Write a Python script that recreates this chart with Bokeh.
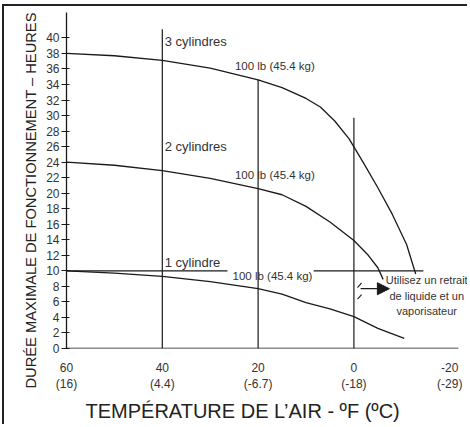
from bokeh.plotting import figure
from bokeh.models import Range1d, FixedTicker, Arrow, NormalHead, Title
from bokeh.core.properties import value
from bokeh.embed import file_html
from bokeh.resources import INLINE

# ---- data (temperature °F, hours) ----
cyl3_temp = [60, 50, 40, 30, 20, 15, 10, 7, 4, 1, -2, -5, -8, -11, -12.9]
cyl3_hours = [38.0, 37.7, 37.1, 36.1, 34.6, 33.6, 32.2, 31.1, 29.3, 27.0, 23.9, 20.7, 17.3, 13.4, 9.6]
cyl2_temp = [60, 50, 40, 30, 20, 15, 10, 5, 0, -3, -5, -6.1]
cyl2_hours = [24.0, 23.6, 22.9, 21.9, 20.6, 19.8, 18.3, 16.3, 13.9, 12.0, 10.4, 8.9]
cyl1_temp = [60, 50, 40, 30, 20, 15, 10, 5, 0, -5, -10.5]
cyl1_hours = [10.0, 9.7, 9.3, 8.6, 7.7, 7.0, 5.9, 5.1, 4.1, 2.6, 1.3]

vline_temp = [40, 20, 0]
vline_top = [41.1, 34.6, 29.7]

hline_level = 10
hline_x0 = [60, 8.4]
hline_x1 = [26.4, -14.5]

x_ticks = [60, 40, 20, 0, -20]
x_tick_labels = ["60\n(16)", "40\n(4.4)", "20\n(-6.7)", "0\n(-18)", "-20\n(-29)"]
y_ticks = list(range(0, 41, 2))

cyl_names = ["3 cylindres", "2 cylindres", "1 cylindre"]
cyl_name_x = [39.5, 39.5, 39.5]
cyl_name_y = [39.5, 26.0, 11.1]

weight_text = ["100 lb (45.4 kg)"] * 3
weight_x = [16.5, 16.5, 17.0]
weight_y = [36.4, 22.4, 9.4]

note_lines = ["Utilisez un retrait", "de liquide et un", "vaporisateur"]
note_x = [-15.2, -15.2, -15.2]
note_y = [8.8, 6.8, 4.8]

arrow_x = [-1.4, -7.4]
arrow_y = 7.7

marks_x0 = [-0.75, -0.75]
marks_y0 = [7.85, 6.35]
marks_x1 = [-1.6, -1.6]
marks_y1 = [8.45, 6.95]

x_title = "TEMPÉRATURE DE L’AIR - ºF (ºC)"
y_title = "DURÉE MAXIMALE DE FONCTIONNEMENT – HEURES"

FONT = "Liberation Sans"
INK = "#1a1a1a"
TXT = "#333333"

p = figure(width=465, height=420, output_backend="svg", toolbar_location=None,
           x_range=Range1d(60, -24.13), y_range=Range1d(0, 43.27),
           min_border_left=62, min_border_right=0, min_border_top=6, min_border_bottom=70)
p.styles = {"margin-left": "2px", "margin-top": "4px",
            "border-top": "2px solid #222", "border-left": "2px solid #222"}
p.outline_line_color = None
p.xgrid.visible = False
p.ygrid.visible = False
p.background_fill_color = "white"
p.border_fill_color = "white"

# axes
xa = p.xaxis[0]
xa.ticker = FixedTicker(ticks=x_ticks)
xa.major_label_overrides = {t: s for t, s in zip(x_ticks, x_tick_labels)}
xa.axis_line_color = None
xa.major_tick_line_color = None
xa.minor_tick_line_color = None
xa.major_label_standoff = 6
xa.major_label_text_font = FONT
xa.major_label_text_font_size = "12px"
xa.major_label_text_color = TXT

ya = p.yaxis[0]
ya.ticker = FixedTicker(ticks=y_ticks)
ya.axis_line_color = INK
ya.axis_line_width = 1.3
ya.major_tick_line_color = INK
ya.major_tick_out = 5
ya.major_tick_in = 3
ya.minor_tick_line_color = None
ya.major_label_standoff = 2
ya.major_label_text_font = FONT
ya.major_label_text_font_size = "12px"
ya.major_label_text_color = TXT

# axis titles
p.add_layout(Title(text=y_title, align="left", offset=-40, vertical_align="middle",
                   standoff=8, text_font=FONT, text_font_size="14.7px",
                   text_font_style="normal", text_color="#222"), "left")
p.add_layout(Title(text=x_title, align="left", offset=19, vertical_align="middle",
                   standoff=8, text_font=FONT, text_font_size="20px",
                   text_font_style="normal", text_color="#222"), "below")

# x axis line (drawn to -21.8)
p.segment(x0=[60], y0=[0], x1=[-21.8], y1=[0], line_color=INK, line_width=1.3)

# vertical reference lines
p.segment(x0=vline_temp, y0=[0] * len(vline_temp), x1=vline_temp, y1=vline_top,
          line_color=INK, line_width=1.2)
# horizontal line at 10 h
p.segment(x0=hline_x0, y0=[hline_level] * 2, x1=hline_x1, y1=[hline_level] * 2,
          line_color=INK, line_width=1.2)

# curves
for xs, ys in [(cyl3_temp, cyl3_hours), (cyl2_temp, cyl2_hours), (cyl1_temp, cyl1_hours)]:
    p.line(xs, ys, line_color=INK, line_width=1.3, line_join="round")

# freeze marks
p.segment(x0=marks_x0, y0=marks_y0, x1=marks_x1, y1=marks_y1, line_color=INK, line_width=1.1)

# arrow
p.add_layout(Arrow(end=NormalHead(size=12, fill_color=INK, line_color=INK),
                   x_start=arrow_x[0], y_start=arrow_y, x_end=arrow_x[1], y_end=arrow_y,
                   line_color=INK, line_width=1.3))

# texts
p.text(x=cyl_name_x, y=cyl_name_y, text=cyl_names, text_align="left", text_baseline="middle",
       text_font=value(FONT), text_font_size="13px", text_color=TXT)
p.text(x=weight_x, y=weight_y, text=weight_text, text_align="center", text_baseline="middle",
       text_font=value(FONT), text_font_size="11.5px", text_color=TXT)
p.text(x=note_x, y=note_y, text=note_lines, text_align="center", text_baseline="middle",
       text_font=value(FONT), text_font_size="11px", text_color=TXT)

open("out.html", "w").write(file_html(p, INLINE))
